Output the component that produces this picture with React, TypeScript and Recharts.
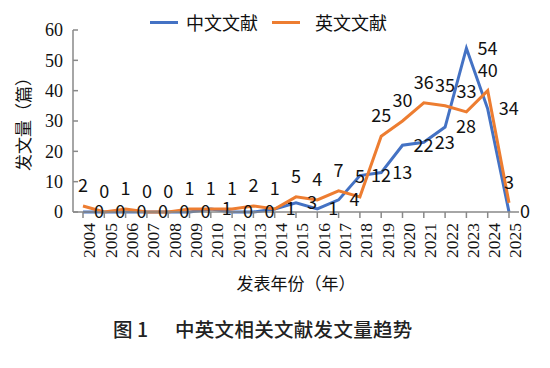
import React from 'react';
import { LineChart, Line, XAxis, YAxis, Legend, LabelList } from 'recharts';

// categories (2011 is absent in the source)
const years = ['2004', '2005', '2006', '2007', '2008', '2009', '2010', '2012', '2013', '2014', '2015', '2016', '2017', '2018', '2019', '2020', '2021', '2022', '2023', '2024', '2025'];
const chineseCounts = [0, 0, 0, 0, 0, 0, 1, 0, 0, 1, 3, 1, 4, 12, 13, 22, 23, 28, 54, 34, 0];
const englishCounts = [2, 0, 1, 0, 0, 1, 1, 1, 2, 1, 5, 4, 7, 5, 25, 30, 36, 35, 33, 40, 3];
const yTicks = [0, 10, 20, 30, 40, 50, 60];
const seriesNames = ['中文文献', '英文文献'];

const BLUE = '#4472C4';
const ORANGE = '#ED7D31';
const AXIS = '#898989';
const NUM_FONT = "'Liberation Serif', Tinos, 'Times New Roman', Times, 'DejaVu Serif', serif";
const CJK_FONT = "'Noto Sans CJK SC', 'Noto Sans', sans-serif";

const data = years.map((year, i) => ({
  year,
  cn: chineseCounts[i],
  en: englishCounts[i],
}));

const css = `
.recharts-wrapper svg text { font-family: ${NUM_FONT}; }
.recharts-wrapper svg text.cjk-title { font-family: ${CJK_FONT}; }
.recharts-wrapper svg .recharts-label { font-family: ${CJK_FONT}; }
`;

const renderLegend = () => (
  <div style={{ display: 'flex', alignItems: 'center', fontFamily: CJK_FONT, fontSize: 18, lineHeight: '24px', height: 24, color: '#111' }}>
    {[BLUE, ORANGE].map((c, i) => (
      <div key={i} style={{ display: 'flex', alignItems: 'center', marginRight: i === 0 ? 14 : 0 }}>
        <span style={{ display: 'inline-block', width: 28, height: 3, background: c, marginRight: i === 0 ? 8 : 15 }} />
        <span>{seriesNames[i]}</span>
      </div>
    ))}
  </div>
);

const YTitle = () => (
  <text
    className="cjk-title"
    transform="translate(22,120) rotate(-90)"
    textAnchor="middle"
    dominantBaseline="central"
    fontSize={17}
    fill="#111"
  >
    发文量（篇）
  </text>
);

export default function App() {
  return (
    <div style={{ position: 'absolute', left: 0, top: 0, width: 550, height: 368, background: '#fff' }}>
      <style>{css}</style>
      <LineChart width={550} height={300} data={data} margin={{ top: 6, right: 31, bottom: 8, left: 0 }}>
        <XAxis
          dataKey="year"
          interval={0}
          height={80}
          padding={{ left: 10, right: 10 }}
          stroke={AXIS}
          strokeWidth={1.5}
          tickSize={6}
          tickMargin={5}
          tick={{ angle: -90, textAnchor: 'end', verticalAnchor: 'middle', fontSize: 17.5, fill: '#111' }}
          label={{ value: '发表年份（年）', position: 'insideBottom', offset: 2, fontSize: 17, className: 'cjk-title', fill: '#111' }}
        />
        <YAxis
          width={73}
          domain={[0, 60]}
          ticks={yTicks}
          interval={0}
          stroke={AXIS}
          strokeWidth={1.5}
          tickSize={-5}
          tickMargin={15}
          tick={{ fontSize: 18, fill: '#111' }}
          label={<YTitle />}
        />
        <Legend
          verticalAlign="top"
          content={renderLegend}
          wrapperStyle={{ position: 'absolute', top: 10, left: 150, width: 'auto', height: 24 }}
        />
        <Line
          type="linear"
          dataKey="cn"
          name={seriesNames[0]}
          stroke={BLUE}
          strokeWidth={3}
          dot={false}
          isAnimationActive={false}
        >
          <LabelList dataKey="cn" position="right" offset={11} fontSize={18} fill="#111" />
        </Line>
        <Line
          type="linear"
          dataKey="en"
          name={seriesNames[1]}
          stroke={ORANGE}
          strokeWidth={3}
          dot={false}
          isAnimationActive={false}
        >
          <LabelList dataKey="en" position="top" offset={14} fontSize={18} fill="#111" />
        </Line>
      </LineChart>
      <div style={{ position: 'absolute', top: 318, left: 113, fontFamily: CJK_FONT, fontSize: 19.5, lineHeight: '22px', fontWeight: 500, color: '#222', whiteSpace: 'pre' }}>
        图 1
      </div>
      <div style={{ position: 'absolute', top: 318, left: 175, fontFamily: CJK_FONT, fontSize: 19.5, lineHeight: '22px', fontWeight: 500, color: '#222', letterSpacing: 0.3, whiteSpace: 'pre' }}>
        中英文相关文献发文量趋势
      </div>
    </div>
  );
}
